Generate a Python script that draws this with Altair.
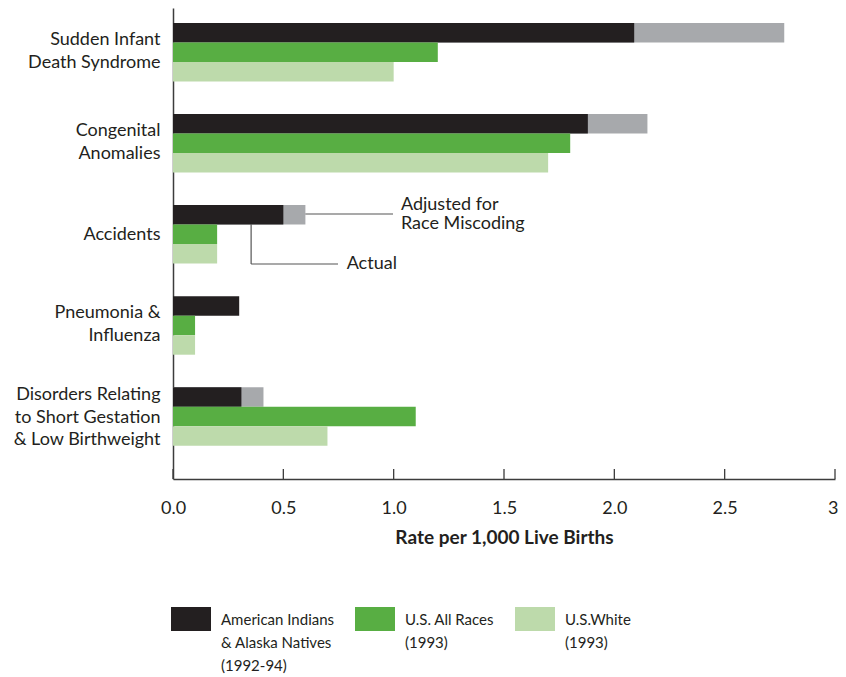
import altair as alt
import pandas as pd

# ---- data ----
categories = [
    "Sudden Infant\nDeath Syndrome",
    "Congenital\nAnomalies",
    "Accidents",
    "Pneumonia &\nInfluenza",
    "Disorders Relating\nto Short Gestation\n& Low Birthweight",
]
series_names = [
    "American Indians\n& Alaska Natives\n(1992-94)",
    "U.S. All Races\n(1993)",
    "U.S.White\n(1993)",
]
ai_actual = [2.09, 1.88, 0.50, 0.30, 0.31]
ai_adjusted = [2.77, 2.15, 0.60, None, 0.41]
us_all_races = [1.20, 1.80, 0.20, 0.10, 1.10]
us_white = [1.00, 1.70, 0.20, 0.10, 0.70]
x_tick_values = [0.0, 0.5, 1.0, 1.5, 2.0, 2.5, 3.0]
annotation_adjusted = "Adjusted for\nRace Miscoding"
annotation_actual = "Actual"

# ---- styling ----
FONT = "Lato"
TEXT_COLOR = "#231f20"
AXIS_COLOR = "#3c3c3c"
colors = ["#231f20", "#58ae43", "#bddaab"]
GRAY = "#a7a9ac"
W, H = 662, 471

rows = []
for i, c in enumerate(categories):
    for s, vals in zip(series_names, [ai_actual, us_all_races, us_white]):
        rows.append({"cat": c, "series": s, "value": vals[i]})
df = pd.DataFrame(rows)
adj = pd.DataFrame({"cat": categories, "series": series_names[0], "value": ai_adjusted}).dropna()
ticks_df = pd.DataFrame({"value": x_tick_values})

y_scale = alt.Scale(domain=categories, paddingInner=0.358, paddingOuter=0.264, align=0.31)
yoff_scale = alt.Scale(domain=series_names, paddingInner=0, paddingOuter=0)
x_scale = alt.Scale(domain=[0, 3], nice=False, zero=True)

x_axis = alt.Axis(
    values=x_tick_values,
    labelExpr="datum.value == 3 ? '3' : format(datum.value, '.1f')",
    labelAlign={"condition": {"test": "datum.value == 3", "value": "right"}, "value": "center"},
    labelOffset={"condition": {"test": "datum.value == 3", "value": 3}, "value": 0},
    title="Rate per 1,000 Live Births",
    titleFontWeight="bold",
    titleFontSize=19,
    titleColor=TEXT_COLOR,
    titlePadding=11,
    labelFontSize=18,
    labelColor=TEXT_COLOR,
    labelPadding=20,
    ticks=False,
    tickSize=0,
    grid=False,
    domainColor=AXIS_COLOR,
    domainWidth=1.5,
    labelFlush=False,
)
y_axis = alt.Axis(
    title=None,
    labelExpr="split(datum.label, '\\n')",
    labelFontSize=18,
    labelColor=TEXT_COLOR,
    labelLineHeight=22.5,
    labelPadding=13,
    labelLimit=300,
    labelOffset={
        "condition": [
            {"test": "length(split(datum.value, '\\n')) == 3", "value": -21.5},
            {"test": "length(split(datum.value, '\\n')) == 2", "value": -12},
        ],
        "value": 1,
    },
    ticks=False,
    tickSize=0,
    grid=False,
    domainColor=AXIS_COLOR,
    domainWidth=1.5,
)

gray_bars = alt.Chart(adj).mark_bar(color=GRAY).encode(
    x=alt.X("value:Q", scale=x_scale, axis=x_axis),
    y=alt.Y("cat:N", sort=categories, scale=y_scale, axis=y_axis),
    yOffset=alt.YOffset("series:N", sort=series_names, scale=yoff_scale),
)

main_bars = alt.Chart(df).mark_bar().encode(
    x=alt.X("value:Q", scale=x_scale, axis=x_axis),
    y=alt.Y("cat:N", sort=categories, scale=y_scale, axis=y_axis),
    yOffset=alt.YOffset("series:N", sort=series_names, scale=yoff_scale),
    color=alt.Color(
        "series:N",
        sort=series_names,
        scale=alt.Scale(domain=series_names, range=colors),
        legend=alt.Legend(
            title=None,
            orient="none",
            direction="horizontal",
            legendX=-2,
            legendY=597,
            padding=0,
            symbolType="M-1,-0.9H1V0.3H-1Z",
            symbolSize=1600,
            symbolStrokeWidth=0,
            symbolOpacity=1,
            labelExpr="split(datum.label + (indexof(datum.label, '\\n') == lastindexof(datum.label, '\\n') ? '\\n ' : ''), '\\n')",
            labelFont=FONT,
            labelFontSize=15,
            labelColor=TEXT_COLOR,
            labelBaseline="alphabetic",
            labelOffset=10,
            labelLimit=300,
            columnPadding=20,
        ),
    ),
)

tick_rules = alt.Chart(ticks_df).mark_rule(color=AXIS_COLOR, strokeWidth=1.3).encode(
    x=alt.X("value:Q", scale=x_scale),
    y=alt.value(H - 10),
    y2=alt.value(H),
)

ann_one = pd.DataFrame({"x": [0.0]})
lead_adj = alt.Chart(ann_one).mark_rule(color="#555555", strokeWidth=1.2).encode(
    x=alt.value(0.60 * W / 3), x2=alt.value(0.997 * W / 3), y=alt.value(206)
)
text_adj = alt.Chart(ann_one).mark_text(
    align="left", baseline="middle", fontSize=18, color=TEXT_COLOR, lineBreak="\n", lineHeight=19, font=FONT
).encode(x=alt.value(1.033 * W / 3), y=alt.value(197), text=alt.value(annotation_adjusted))
lead_act_v = alt.Chart(ann_one).mark_rule(color="#555555", strokeWidth=1.2).encode(
    x=alt.value(0.354 * W / 3), y=alt.value(216), y2=alt.value(256)
)
lead_act_h = alt.Chart(ann_one).mark_rule(color="#555555", strokeWidth=1.2).encode(
    x=alt.value(0.354 * W / 3), x2=alt.value(0.748 * W / 3), y=alt.value(256)
)
text_act = alt.Chart(ann_one).mark_text(
    align="left", baseline="middle", fontSize=18, color=TEXT_COLOR, font=FONT
).encode(x=alt.value(0.787 * W / 3), y=alt.value(256), text=alt.value(annotation_actual))

chart = (
    alt.layer(gray_bars, main_bars, tick_rules, lead_adj, text_adj, lead_act_v, lead_act_h, text_act)
    .properties(
        width=W,
        height=H,
        autosize=alt.AutoSizeParams(type="none"),
        padding={"left": 165, "top": 0, "right": 3, "bottom": 198},
    )
    .configure(font=FONT, style={"guide-label": {"lineHeight": 23}})
    .configure_view(stroke=None)
)

chart.save("out.html", embed_options={"renderer": "svg", "actions": False})
